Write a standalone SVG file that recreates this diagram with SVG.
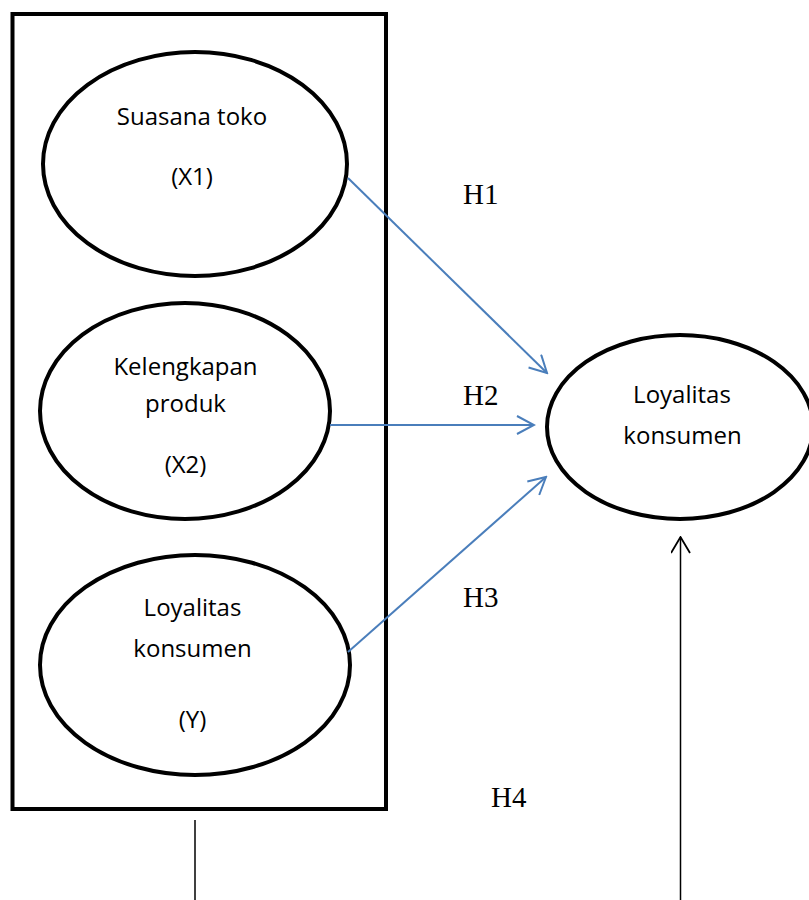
<svg xmlns="http://www.w3.org/2000/svg" width="809" height="900" viewBox="0 0 809 900">
<style>
.node{fill:none;stroke:#000;stroke-width:4}
.lbl{font-family:"Open Sans","Liberation Sans",sans-serif;font-size:24px;fill:#000;text-anchor:middle}
.h{font-family:"Liberation Serif","Times New Roman",serif;font-size:29px;fill:#000}
.blue{stroke:#4a7ebb;stroke-width:2;fill:none}
.blk{stroke:#000;stroke-width:1.5;fill:none}
</style>
<defs>
<marker id="ab" viewBox="0 0 20 20" refX="18" refY="10" markerWidth="20" markerHeight="20" markerUnits="userSpaceOnUse" orient="auto">
<path d="M1,1 L18,10 L1,19" fill="none" stroke="#4a7ebb" stroke-width="2"/>
</marker>
<marker id="ak" viewBox="0 0 20 30" refX="19" refY="10" markerWidth="20" markerHeight="30" markerUnits="userSpaceOnUse" orient="auto">
<path d="M3,0.5 L19,10 L3,19.5" fill="none" stroke="#000" stroke-width="1.8"/>
</marker>
</defs>
<g id="box"><rect x="12.5" y="14" width="373.5" height="795" class="node"/></g>
<g id="x1">
<ellipse cx="195" cy="164" rx="152" ry="112" class="node"/>
<text x="192" y="125" class="lbl">Suasana toko</text>
<text x="192" y="185" class="lbl">(X1)</text>
</g>
<g id="x2">
<ellipse cx="185" cy="411" rx="145" ry="108" class="node"/>
<text x="185.5" y="375" class="lbl">Kelengkapan</text>
<text x="185.5" y="412" class="lbl">produk</text>
<text x="185.5" y="473" class="lbl">(X2)</text>
</g>
<g id="y">
<ellipse cx="195" cy="665" rx="155" ry="110" class="node"/>
<text x="192.5" y="616" class="lbl">Loyalitas</text>
<text x="192.5" y="657" class="lbl">konsumen</text>
<text x="192.5" y="728" class="lbl">(Y)</text>
</g>
<g id="target">
<ellipse cx="680" cy="427" rx="133" ry="92" class="node"/>
<text x="682" y="403" class="lbl">Loyalitas</text>
<text x="682.5" y="444" class="lbl">konsumen</text>
</g>
<g id="connectors">
<line x1="348" y1="178" x2="547" y2="373" class="blue" marker-end="url(#ab)"/>
<line x1="330" y1="425" x2="534" y2="425" class="blue" marker-end="url(#ab)"/>
<line x1="348" y1="652" x2="546" y2="477" class="blue" marker-end="url(#ab)"/>
<line x1="195" y1="820" x2="195" y2="900" class="blk"/>
<line x1="680.5" y1="900" x2="680.5" y2="537" class="blk" marker-end="url(#ak)"/>
</g>
<g id="labels">
<text x="463" y="204" class="h">H1</text>
<text x="463" y="405" class="h">H2</text>
<text x="463" y="607" class="h">H3</text>
<text x="491" y="807" class="h">H4</text>
</g>
</svg>
